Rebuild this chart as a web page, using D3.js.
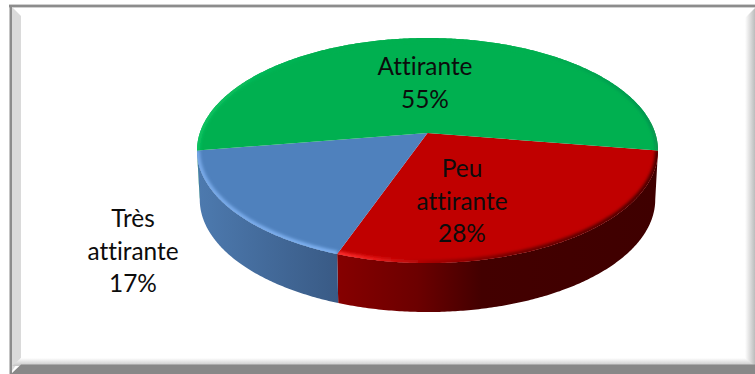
<!DOCTYPE html>
<html>
<head>
<meta charset="utf-8">
<script src="https://d3js.org/d3.v7.min.js"></script>
<style>
html,body{margin:0;padding:0;background:#fff;overflow:hidden}
svg{display:block}
text{font-family:Lato,"Open Sans",sans-serif;font-size:24.4px;fill:#0c0c0c;text-anchor:middle;font-variant-ligatures:none}
</style>
</head>
<body>
<svg id="chart" width="755" height="374"></svg>
<script>
// Opinion shares, drawn as a 3D pie with a tilted disc.
const categories = ["Peu attirante", "Très attirante", "Attirante"];
const shares = [28, 17, 55];
const labelLines = [["Peu", "attirante", "28%"], ["Très", "attirante", "17%"], ["Attirante", "55%"]];
const topColors = ["#c00000", "#4f81bd", "#00b050"];
const rimColors = [
  [["0", "#ff3030"], ["0.12", "#e81818"], ["0.3", "#a00000"], ["0.6", "#6a0000"], ["1", "#4a0000"]],
  [["0", "#78a9e8"], ["1", "#7db0f0"]],
  [["0", "#0cc462"], ["0.25", "#00b050"], ["0.75", "#00b050"], ["1", "#079450"]]
];
const wallStops = [
  [["0", "#860000"], ["0.25", "#6c0000"], ["0.45", "#430000"], ["1", "#3f0000"]],
  [["0", "#4d7aaf"], ["1", "#395a85"]],
  [["0", "#00a048"], ["1", "#00a048"]]
];
const labelAnchors = [[462, 177], [133, 227], [425, 75]];
const lineStep = 32.7;

const svg = d3.select("#chart");
const defs = svg.append("defs");

function linGrad(id, x1, y1, x2, y2, stops, units) {
  const g = defs.append("linearGradient").attr("id", id)
    .attr("gradientUnits", units || "objectBoundingBox")
    .attr("x1", x1).attr("y1", y1).attr("x2", x2).attr("y2", y2);
  stops.forEach(s => g.append("stop").attr("offset", s[0]).attr("stop-color", s[1]));
}

// Frame with bevelled edges
linGrad("bevelBottom", 0, 0, 0, 1, [["0", "#ffffff"], ["1", "#c4c4c4"]]);
linGrad("bevelRight", 0, 0, 1, 0, [["0", "#ffffff"], ["1", "#bcbcbc"]]);
svg.append("rect").attr("width", 755).attr("height", 374).attr("fill", "#fff");
svg.append("rect").attr("x", 9).attr("y", 4).attr("width", 746).attr("height", 1.5).attr("fill", "#cfcfcf");
svg.append("rect").attr("x", 9).attr("y", 5).attr("width", 746).attr("height", 2.4).attr("fill", "#8c8c8c");
svg.append("rect").attr("x", 9.5).attr("y", 5).attr("width", 2.5).attr("height", 369).attr("fill", "#8c8c8c");
svg.append("path").attr("fill", "#dadada")
  .attr("d", "M12,7L21,16L21,358L12,371Z");
svg.append("path").attr("fill", "url(#bevelRight)")
  .attr("d", "M745,18L755,8L755,368L745,360Z");
svg.append("path").attr("fill", "url(#bevelBottom)")
  .attr("d", "M21,358L745,358L755,366L12,366Z");
svg.append("path").attr("fill", "#888888")
  .attr("d", "M21,364.5L755,364.5L755,374L11,374Z");

// Projection from the unit disc onto the tilted plane
const apex = {x: 427.5, y: 133};
const k = 0.1556, spanX = 227.7, spanY = 109.8;
const wallDepth = 49;
const project = (angle, radius, drop) => {
  const X = radius * Math.sin(angle), Y = -radius * Math.cos(angle);
  const w = 1 - k * Y;
  const sink = drop ? 0.988 : 1;
  return [apex.x + sink * spanX * X / w, apex.y + spanY * Y / w + (drop || 0)];
};

const startAngle = 99 * Math.PI / 180;
const pie = d3.pie().sort(null).startAngle(startAngle).endAngle(startAngle + 2 * Math.PI);
const arcs = pie(shares);
const line = d3.line();
const rimPoints = (a0, a1, drop) => {
  const n = Math.max(2, Math.ceil((a1 - a0) / 0.01));
  return d3.range(n + 1).map(i => project(a0 + (a1 - a0) * i / n, 1, drop));
};

defs.append("filter").attr("id", "soft").attr("x", "-10%").attr("y", "-10%").attr("width", "120%").attr("height", "120%")
  .append("feGaussianBlur").attr("stdDeviation", 1.8);

// Outer wall, drawn only along the part of each slice that faces the viewer
const frontEnd = 261 * Math.PI / 180;
const wallLayer = svg.append("g");
arcs.forEach((d, i) => {
  const a0 = Math.max(d.startAngle, startAngle);
  const a1 = Math.min(d.endAngle, frontEnd + 0.02);
  if (a1 <= a0) return;
  const upper = rimPoints(a0, a1, 0);
  const lower = rimPoints(a0, a1, wallDepth).reverse();
  const xs = upper.concat(lower).map(p => p[0]);
  linGrad("wall" + i, d3.min(xs), 0, d3.max(xs), 0, wallStops[i], "userSpaceOnUse");
  wallLayer.append("path").attr("d", line(upper.concat(lower)) + "Z")
    .attr("fill", "url(#wall" + i + ")");
});

// Top face of each slice with a soft rim along its outer edge
const faceLayer = svg.append("g");
arcs.forEach((d, i) => {
  const edge = rimPoints(d.startAngle, d.endAngle, 0);
  const face = line([[apex.x, apex.y]].concat(edge)) + "Z";
  defs.append("clipPath").attr("id", "clip" + i).append("path").attr("d", face);
  const xs = edge.map(p => p[0]);
  linGrad("rim" + i, d3.min(xs), 0, d3.max(xs), 0, rimColors[i], "userSpaceOnUse");
  faceLayer.append("path").attr("d", face).attr("fill", topColors[i]);
  faceLayer.append("g").attr("clip-path", "url(#clip" + i + ")")
    .append("path").attr("d", line(edge)).attr("fill", "none")
    .attr("stroke", "url(#rim" + i + ")").attr("stroke-width", 6)
    .attr("filter", "url(#soft)");
});

// Category labels and percentages
const labels = svg.append("g");
labelLines.forEach((lines, i) => {
  lines.forEach((t, j) => {
    labels.append("text")
      .attr("x", labelAnchors[i][0])
      .attr("y", labelAnchors[i][1] + j * lineStep)
      .text(t);
  });
});
</script>
</body>
</html>
